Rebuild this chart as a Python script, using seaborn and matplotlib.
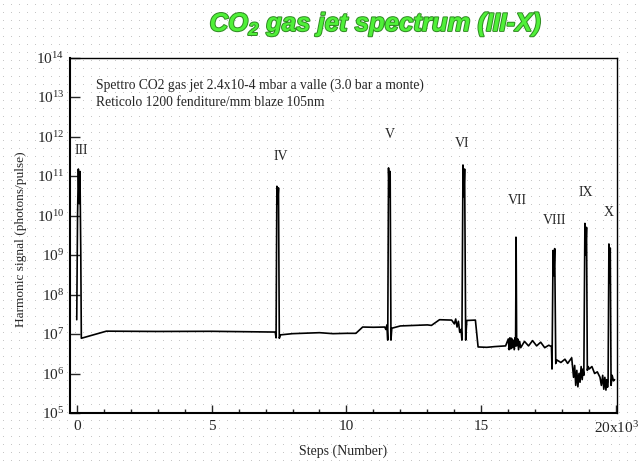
import numpy as np
import pandas as pd
import matplotlib
matplotlib.use("Agg")
import matplotlib.pyplot as plt
import matplotlib.patheffects as pe
from matplotlib.ticker import FixedLocator, FuncFormatter, MultipleLocator
import seaborn as sns

# Traccia (passi in unita di 10^3, segnale in fotoni/impulso)
steps = [0.00, 0.03, 0.06, 0.09, 0.12, 0.15, 0.17,
         1.10, 3.0, 5.0, 6.0, 7.0, 7.36,
         7.39, 7.42, 7.45, 7.48, 7.51,
         7.55, 8.0, 8.5, 9.0, 9.5, 10.0, 10.35, 10.6, 11.0, 11.42,
         11.46, 11.50, 11.53, 11.56, 11.59, 11.62, 11.65, 11.68,
         12.0, 12.5, 13.0, 13.15, 13.45, 13.9,
         14.0, 14.05, 14.1, 14.15, 14.2, 14.25,
         14.28, 14.32, 14.35, 14.38, 14.42, 14.46,
         14.78, 14.88, 15.2, 15.5, 15.9,
         16.0, 16.03, 16.06, 16.09, 16.12, 16.15, 16.18, 16.22, 16.25,
         16.27, 16.29, 16.31,
         16.35, 16.38, 16.42, 16.46,
         16.6, 16.75, 16.9, 17.05, 17.2, 17.35, 17.5, 17.6,
         17.62, 17.66, 17.69, 17.72, 17.76,
         17.8, 17.95, 18.1, 18.2, 18.35,
         18.42, 18.46, 18.5, 18.54, 18.58, 18.62, 18.66, 18.70, 18.74, 18.77,
         18.80, 18.84, 18.87, 18.90, 18.93,
         18.96, 19.0, 19.1, 19.2, 19.3, 19.4,
         19.45, 19.5, 19.54, 19.58, 19.62, 19.65, 19.68,
         19.70, 19.73, 19.75, 19.78, 19.81,
         19.85, 19.9, 19.94]

signal = [2.3e7, 1.0e10, 1.5e11, 2e10, 1.3e11, 1e9, 7.8e6,
          1.18e7, 1.16e7, 1.17e7, 1.15e7, 1.13e7, 1.12e7,
          8e6, 5.5e10, 2e10, 5e10, 7.8e6,
          9.5e6, 1.02e7, 1.05e7, 1.08e7, 1.02e7, 1.04e7, 1.04e7, 1.5e7, 1.48e7, 1.5e7,
          1.3e7, 1.7e7, 7e6, 1.6e11, 3e10, 1.3e11, 7e6, 1.4e7,
          1.6e7, 1.65e7, 1.7e7, 1.65e7, 2.3e7, 2.25e7,
          1.8e7, 2.4e7, 1.5e7, 2.1e7, 1.1e7, 1.3e7,
          7e6, 1.9e11, 3e10, 1.5e11, 7e6, 2.2e7,
          2.25e7, 4.7e6, 4.6e6, 4.8e6, 5e6,
          7.5e6, 4e6, 8e6, 4.2e6, 7.8e6, 4.5e6, 7e6, 4e6, 8e6,
          5e6, 2.8e9, 5e6,
          7.5e6, 4e6, 6.5e6, 4.5e6,
          6.5e6, 5.0e6, 6.8e6, 5.0e6, 6.2e6, 4.5e6, 5.2e6, 4.8e6,
          1.3e6, 1.3e9, 3e8, 1.45e9, 1.8e6,
          2.2e6, 1.9e6, 2.3e6, 1.8e6, 2.5e6,
          8e5, 1.6e6, 5e5, 1.2e6, 4.6e5, 1.0e6, 6e5, 1.5e6, 7e5, 1.3e6,
          9e5, 6.3e9, 1e9, 5e9, 1.2e6,
          1.5e6, 1.3e6, 1.5e6, 1.0e6, 1.1e6, 8e5,
          5e5, 9e5, 4e5, 8e5, 3.8e5, 7e5, 4.5e5,
          6e5, 1.9e9, 2e8, 1.5e9, 5e5,
          9e5, 6.5e5, 7e5]

# Etichette delle armoniche
peak_labels = ["III", "IV", "V", "VI", "VII", "VIII", "IX", "X"]
peak_label_x = [0.16, 7.57, 11.62, 14.29, 16.33, 17.73, 18.88, 19.74]
peak_label_y = [4.5e11, 3.2e11, 1.15e12, 6.5e11, 2.45e10, 7.6e9, 3.9e10, 1.2e10]

info_lines = ["Spettro CO2 gas jet 2.4x10-4 mbar a valle (3.0 bar a monte)",
              "Reticolo 1200 fenditure/mm blaze 105nm"]

df = pd.DataFrame({"steps": steps, "signal": signal})

sns.set_style("white")
plt.rcParams["font.family"] = ["Liberation Serif", "DejaVu Serif"]

fig = plt.figure(figsize=(6.43, 4.63), dpi=100)
fig.patch.set_facecolor("white")

# sfondo puntinato come nell'immagine originale
bg = np.ones((463, 643, 3))
bg[4::8, 3::8] = 0.78
img = fig.figimage(bg, xo=0, yo=0, origin="upper")
img.set_zorder(-1)

ax = fig.add_axes([70 / 643, 1 - 413 / 463, 547 / 643, 355.5 / 463])
ax.patch.set_alpha(0)

sns.lineplot(data=df, x="steps", y="signal", ax=ax, sort=False,
             estimator=None, color="black", linewidth=1.2)

ax.set_yscale("log")
ax.set_ylim(1e5, 1e14)
ax.set_xlim(-0.25, 20.03)

ax.yaxis.set_major_locator(FixedLocator([10.0 ** k for k in range(5, 15)]))
ax.yaxis.set_minor_locator(FixedLocator([]))
ax.yaxis.set_major_formatter(FuncFormatter(
    lambda v, p: r"$\mathregular{10^{%d}}$" % round(np.log10(v))))

ax.xaxis.set_major_locator(FixedLocator([0, 5, 10, 15, 20]))
ax.xaxis.set_minor_locator(MultipleLocator(1))
ax.set_xticklabels(["0", "5", "10", "15", r"$\mathregular{20x10^{3}}$"])

ax.tick_params(axis="y", which="major", direction="in", length=7, width=1,
               labelsize=11, pad=4, left=True)
ax.tick_params(axis="x", which="major", direction="in", length=6, width=1,
               labelsize=11, pad=5, bottom=True)
ax.tick_params(axis="x", which="minor", direction="in", length=3, width=1,
               bottom=True)

for side in ["left", "bottom", "top", "right"]:
    ax.spines[side].set_visible(True)
    ax.spines[side].set_color("black")
    ax.spines[side].set_linewidth(1.0)
ax.spines["left"].set_linewidth(1.5)
ax.spines["bottom"].set_linewidth(1.5)

ax.set_xlabel("Steps (Number)", fontsize=10, labelpad=6)
ax.set_ylabel("Harmonic signal (photons/pulse)", fontsize=9.6)
ax.yaxis.set_label_coords(-0.078, 0.49)

for lab, lx, ly in zip(peak_labels, peak_label_x, peak_label_y):
    ax.text(lx, ly, lab, ha="center", va="center", fontsize=10)

ax.text(0.048, 0.94, "\n".join(info_lines), transform=ax.transAxes,
        ha="left", va="top", fontsize=9.8, linespacing=1.35)

fig.text(0.585, 0.948, r"CO$\mathregular{_2}$ gas jet spectrum (III-X)",
         ha="center", va="center", fontsize=18.5, fontweight="bold",
         fontstyle="italic", family="Liberation Sans", color="#4ff038",
         path_effects=[pe.Stroke(linewidth=1.4, foreground="#2f8a22"),
                       pe.Normal()])

fig.savefig("out.png", dpi=100)
